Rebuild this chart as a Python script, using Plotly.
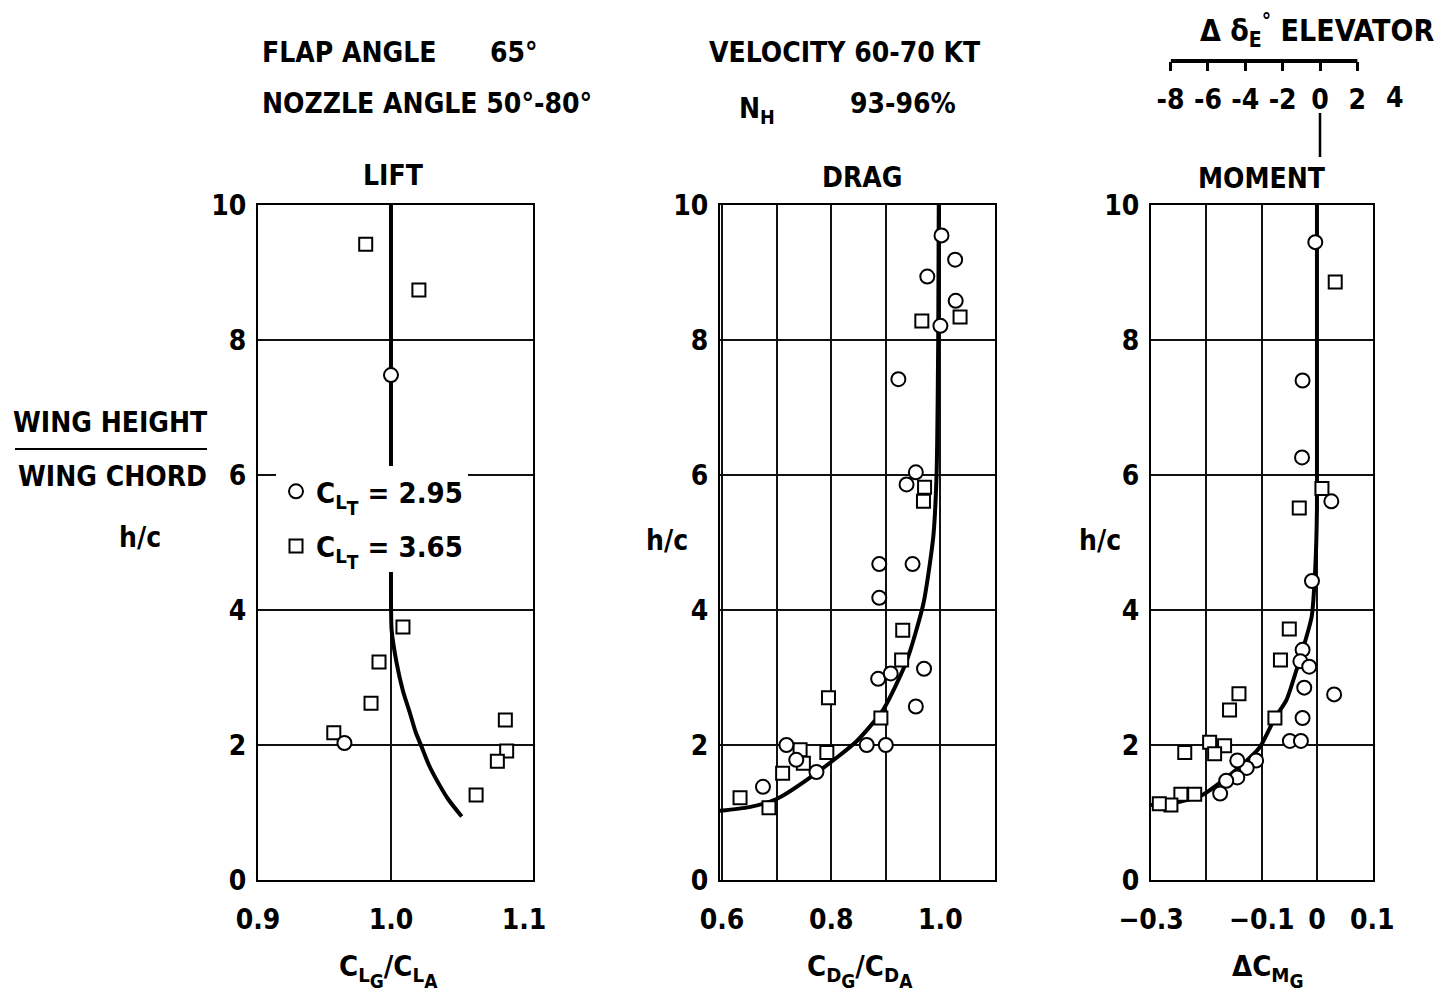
import plotly.graph_objects as go

W, H = 1451, 1002
def px(x): return x / W
def py(y): return 1 - y / H

FONT = "DejaVu Sans Condensed, Liberation Sans Narrow, Arial Narrow, sans-serif"
FS = 28

# ---------------- data ----------------
# LIFT panel : C_LG/C_LA vs h/c
lift_circ_x = [1.000, 0.965]
lift_circ_h = [7.48, 2.03]
lift_sq_x = [0.981, 1.021, 1.009, 0.991, 0.985, 0.957, 1.086, 1.087, 1.080, 1.064]
lift_sq_h = [9.42, 8.74, 3.75, 3.23, 2.62, 2.18, 2.37, 1.91, 1.76, 1.26]
lift_curve_x = [1.000, 1.000, 1.0005, 1.0043, 1.0090, 1.0143, 1.0184, 1.0231, 1.0286, 1.0344, 1.0429, 1.0532]
lift_curve_h = [10.0, 4.2, 3.70, 3.21, 2.80, 2.47, 2.20, 1.97, 1.70, 1.48, 1.20, 0.94]

# DRAG panel : C_DG/C_DA vs h/c
drag_circ_x = [1.002, 1.027, 0.976, 1.028, 1.000, 0.923, 0.955, 0.938, 0.888, 0.949, 0.888,
               0.886, 0.909, 0.970, 0.955, 0.865, 0.900, 0.718, 0.736, 0.773, 0.675, 0.579]
drag_circ_h = [9.55, 9.19, 8.94, 8.58, 8.21, 7.42, 6.04, 5.86, 4.68, 4.68, 4.18,
               2.98, 3.06, 3.13, 2.57, 2.00, 2.00, 2.00, 1.78, 1.60, 1.38, 1.45]
drag_sq_x = [0.966, 1.036, 0.971, 0.969, 0.931, 0.929, 0.891, 0.795, 0.743, 0.749, 0.792,
             0.711, 0.633, 0.686]
drag_sq_h = [8.28, 8.34, 5.82, 5.61, 3.70, 3.26, 2.40, 2.70, 1.93, 1.73, 1.89,
             1.58, 1.22, 1.07]
drag_curve_x = [0.590, 0.650, 0.700, 0.772, 0.847, 0.895, 0.938, 0.969, 0.987, 0.993, 0.996, 0.997]
drag_curve_h = [1.02, 1.08, 1.20, 1.58, 2.06, 2.52, 3.24, 4.10, 5.09, 6.01, 8.00, 10.0]

# MOMENT panel : delta C_MG vs h/c
mom_circ_x = [-0.003, -0.026, -0.027, 0.026, -0.009, -0.026, -0.030, -0.014, -0.023, 0.031,
              -0.026, -0.049, -0.029, -0.110, -0.127, -0.144, -0.144, -0.164, -0.175]
mom_circ_h = [9.45, 7.40, 6.26, 5.61, 4.43, 3.41, 3.24, 3.16, 2.85, 2.75,
              2.40, 2.06, 2.06, 1.77, 1.66, 1.77, 1.52, 1.47, 1.28]
mom_sq_x = [0.033, 0.009, -0.032, -0.050, -0.066, -0.141, -0.158, -0.076, -0.194, -0.167,
            -0.185, -0.239, -0.221, -0.246, -0.264, -0.285]
mom_sq_h = [8.86, 5.80, 5.51, 3.72, 3.26, 2.76, 2.52, 2.40, 2.04, 1.99,
            1.87, 1.89, 1.27, 1.27, 1.11, 1.13]
mom_curve_x = [-0.300, -0.260, -0.207, -0.139, -0.103, -0.076, -0.055, -0.036, -0.0096, -0.003, 0.0, 0.0]
mom_curve_h = [1.11, 1.14, 1.26, 1.68, 1.97, 2.40, 2.67, 3.14, 3.90, 4.63, 5.5, 10.0]

# axis ticks
h_ticks = [0, 2, 4, 6, 8, 10]
lift_ticks = [0.9, 1.0, 1.1]
lift_ticktext = ["0.9", "1.0", "1.1"]
drag_ticks = [0.6, 0.7, 0.8, 0.9, 1.0]
drag_ticktext = ["0.6", "", "0.8", "", "1.0"]
mom_ticks = [-0.3, -0.2, -0.1, 0.0, 0.1]
mom_ticktext = ["\u22120.3", "", "\u22120.1", "0", "0.1"]
elev_ticks = [-8, -6, -4, -2, 0, 2]
elev_ticktext = ["-8", "-6", "-4", "-2", "0", "2"]

SUB2 = "<span style='font-size:19px;baseline-shift:-6px'>{}</span>"
def dsub(main, sub1, sub2):
    return main + "<sub>" + sub1 + SUB2.format(sub2) + "</sub>"

legend_names = [dsub("C", "L", "T") + " = 2.95", dsub("C", "L", "T") + " = 3.65"]

# ---------------- figure ----------------
fig = go.Figure()

curve_style = dict(mode="lines", line=dict(color="black", width=4, shape="spline", smoothing=0.6),
                   showlegend=False, hoverinfo="skip")
circ_marker = dict(symbol="circle", size=14, color="white", line=dict(color="black", width=2))
sq_marker = dict(symbol="square", size=13, color="white", line=dict(color="black", width=2))

panels = [
    ("x", "y", lift_curve_x, lift_curve_h, lift_circ_x, lift_circ_h, lift_sq_x, lift_sq_h, True),
    ("x2", "y2", drag_curve_x, drag_curve_h, drag_circ_x, drag_circ_h, drag_sq_x, drag_sq_h, False),
    ("x3", "y3", mom_curve_x, mom_curve_h, mom_circ_x, mom_circ_h, mom_sq_x, mom_sq_h, False),
]
for xa, ya, cx, ch, ox, oh, sx, sh, leg in panels:
    fig.add_trace(go.Scatter(x=cx, y=ch, xaxis=xa, yaxis=ya, **curve_style))
    fig.add_trace(go.Scatter(x=sx, y=sh, xaxis=xa, yaxis=ya, mode="markers", marker=sq_marker,
                             name=legend_names[1], showlegend=leg, legendrank=2, legendgroup="sq",
                             cliponaxis=False))
    fig.add_trace(go.Scatter(x=ox, y=oh, xaxis=xa, yaxis=ya, mode="markers", marker=circ_marker,
                             name=legend_names[0], showlegend=leg, legendrank=1, legendgroup="ci",
                             cliponaxis=False))

# invisible trace to carry the elevator scale axis
fig.add_trace(go.Scatter(x=[-8, 4], y=[0, 0], xaxis="x4", yaxis="y4", mode="lines",
                         line=dict(width=0, color="rgba(0,0,0,0)"), showlegend=False, hoverinfo="skip"))

tickfont = dict(family=FONT, size=FS, color="black", weight="bold")
ydom = [py(880), py(205)]

def xax(dom, rng, tv, tt, grid_minor=None):
    d = dict(domain=[px(dom[0]), px(dom[1])], range=rng, tickvals=tv, ticktext=tt,
             showline=True, linecolor="black", linewidth=2, mirror=True,
             showgrid=True, gridcolor="#111", gridwidth=1.6, zeroline=False,
             ticks="", tickfont=tickfont, ticklabelstandoff=13, fixedrange=True, automargin=False)
    if grid_minor is not None:
        d["showgrid"] = False
        d["minor"] = dict(tickvals=grid_minor, showgrid=True, gridcolor="#111", gridwidth=1.6, ticks="")
    return d

def yax(anchor):
    return dict(domain=ydom, range=[0, 10], tickvals=h_ticks, anchor=anchor,
                showline=True, linecolor="black", linewidth=2, mirror=True,
                showgrid=True, gridcolor="#111", gridwidth=1.6,
                zeroline=True, zerolinecolor="black", zerolinewidth=4,
                ticks="", tickfont=tickfont, ticklabelstandoff=4, fixedrange=True, automargin=False)

fig.update_layout(
    width=W, height=H, margin=dict(l=0, r=0, t=0, b=0, pad=0, autoexpand=False),
    paper_bgcolor="white", plot_bgcolor="rgba(0,0,0,0)",
    font=dict(family=FONT, size=FS, color="black", weight="bold"),
    xaxis=xax((258, 533), [0.9, 1.1068], lift_ticks, lift_ticktext, grid_minor=[1.0]),
    yaxis=yax("x"),
    xaxis2=xax((720, 995), [0.5963, 1.1], drag_ticks, drag_ticktext),
    yaxis2=yax("x2"),
    xaxis3=xax((1151, 1373), [-0.3, 0.1013], mom_ticks, mom_ticktext),
    yaxis3=yax("x3"),
    xaxis4=dict(domain=[px(1170.6), px(1394.7)], range=[-8, 4], anchor="y4", side="bottom",
                tickvals=elev_ticks, ticktext=elev_ticktext, ticks="outside", ticklen=9,
                tickwidth=3, tickcolor="black", showline=False, showgrid=False, zeroline=False,
                tickfont=tickfont, ticklabelstandoff=4, fixedrange=True, automargin=False),
    yaxis4=dict(domain=[py(61), py(50)], visible=False, range=[0, 1], fixedrange=True),
    legend=dict(x=px(276), y=py(466), xanchor="left", yanchor="top",
                bgcolor="white", borderwidth=0,
                font=dict(family=FONT, size=29, color="black", weight="bold"),
                itemwidth=30, tracegroupgap=14),
    showlegend=True,
)

shapes = [
    # elevator scale bracket
    dict(type="line", xref="x4", yref="paper", x0=-8, x1=2, y0=py(61), y1=py(61),
         line=dict(color="black", width=4)),
    # connector from elevator 0 to moment 0
    dict(type="line", xref="x4", yref="paper", x0=0, x1=0, y0=py(157), y1=py(113),
         line=dict(color="black", width=2.5)),
    # fraction bar of WING HEIGHT / WING CHORD
    dict(type="line", xref="paper", yref="paper", x0=px(15), x1=px(207), y0=py(449), y1=py(449),
         line=dict(color="black", width=2)),
]
fig.update_layout(shapes=shapes)

def ann(text, x, y, xanchor="center", size=FS, xref="paper"):
    return dict(text=text, x=x, y=y, xref=xref, yref="paper", xanchor=xanchor, yanchor="middle",
                showarrow=False, font=dict(family=FONT, size=size, color="black", weight="bold"))

annotations = [
    ann("FLAP ANGLE", px(260), py(52), "left"),
    ann("65°", px(488), py(52), "left"),
    ann("NOZZLE ANGLE 50°-80°", px(260), py(104), "left"),
    ann("VELOCITY 60-70 KT", px(707), py(52), "left"),
    ann("N<sub>H</sub>", px(737), py(110), "left"),
    ann("93-96%", px(848), py(104), "left"),
    ann("Δ δ<sub>E</sub><sup>°</sup> ELEVATOR", px(1198), py(30), "left", size=30),
    dict(text="4", x=4, y=py(97), xref="x4", yref="paper", showarrow=False, xanchor="center",
         yanchor="middle", font=dict(family=FONT, size=FS, color="black", weight="bold")),
    ann("LIFT", px(393), py(176)),
    ann("DRAG", px(862), py(177)),
    ann("MOMENT", px(1262), py(179)),
    ann("WING HEIGHT", px(110), py(422)),
    ann("WING CHORD", px(112), py(476)),
    ann("h/c", px(140), py(537)),
    ann("h/c", px(667), py(540)),
    ann("h/c", px(1100), py(540)),
    ann(dsub("C", "L", "G") + "/" + dsub("C", "L", "A"), px(388), py(970), size=29),
    ann(dsub("C", "D", "G") + "/" + dsub("C", "D", "A"), px(860), py(970), size=29),
    ann("Δ" + dsub("C", "M", "G"), px(1268), py(970), size=29),
]
fig.update_layout(annotations=annotations)

fig.write_html("out.html", post_script="document.body.style.margin='0';",
               config={"displayModeBar": False})
